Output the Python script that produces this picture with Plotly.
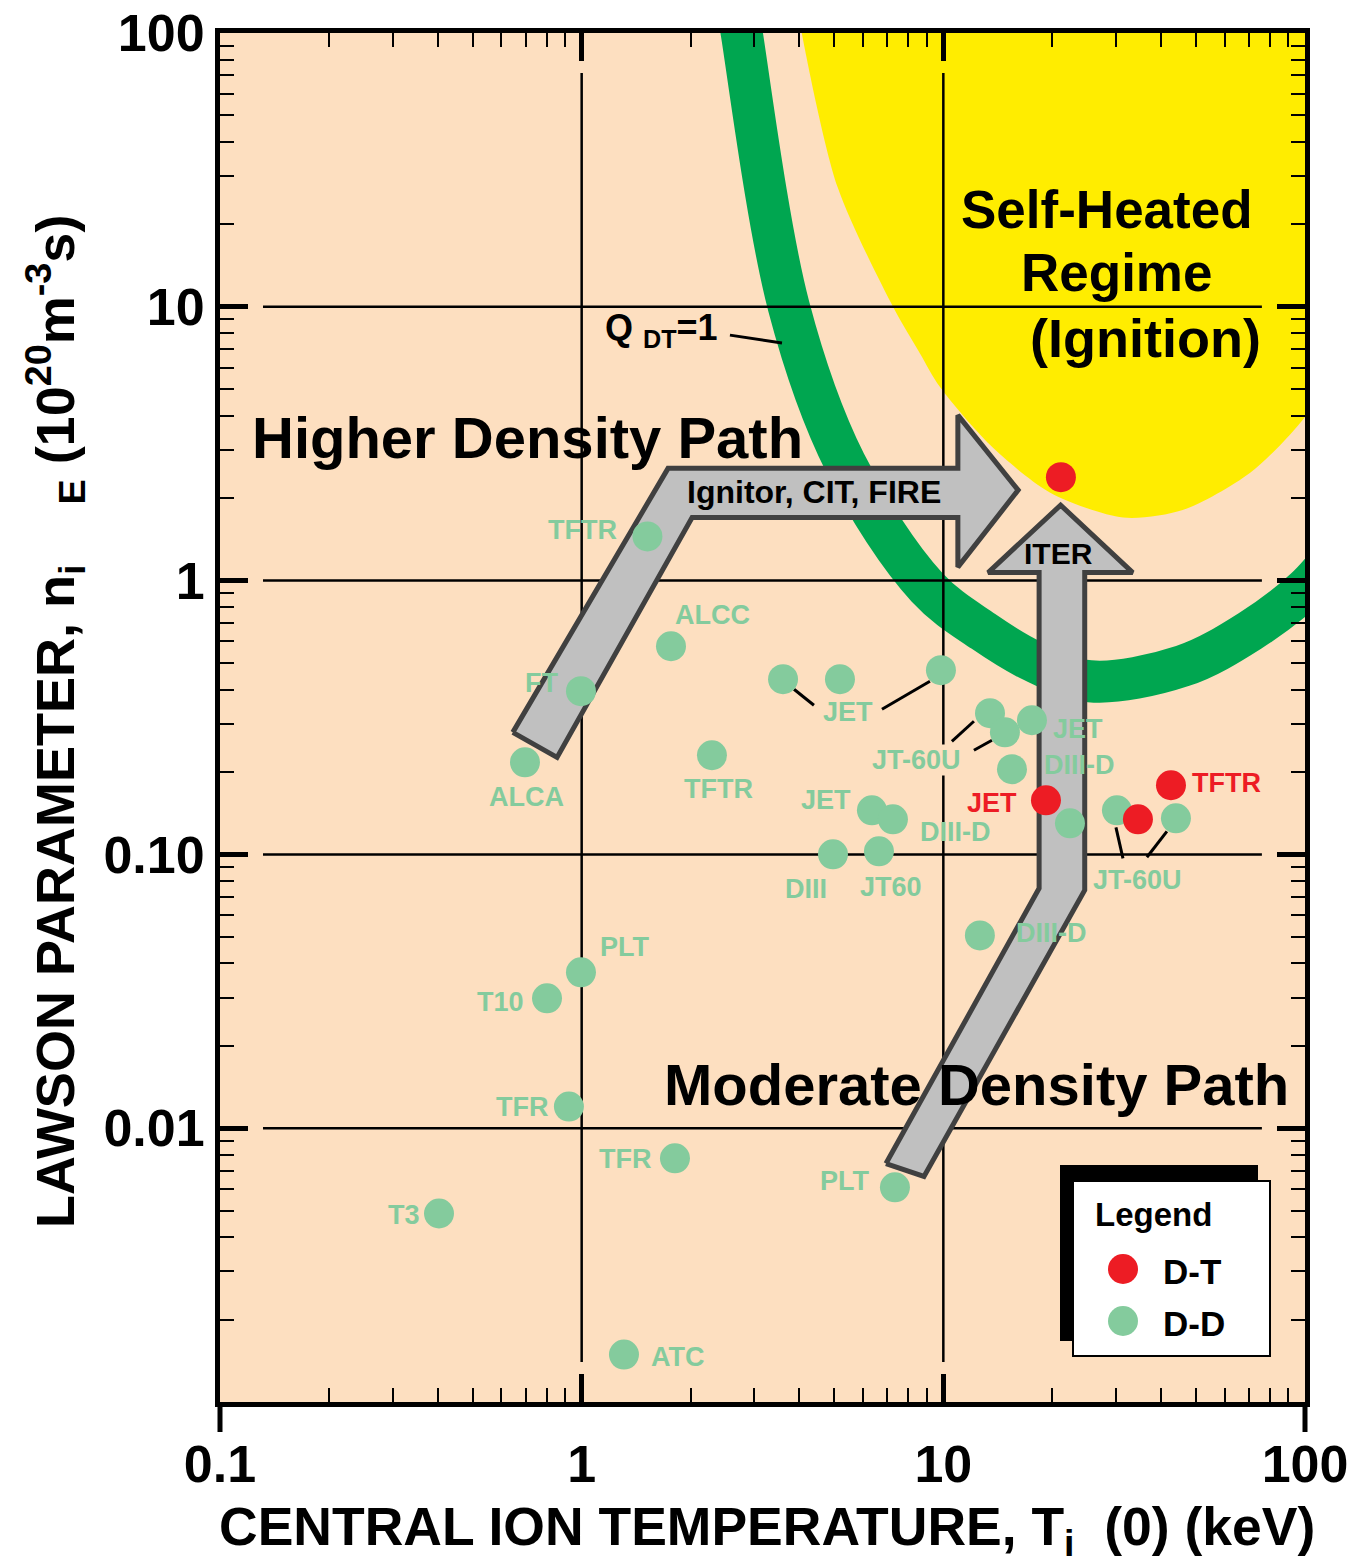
import numpy as np
import plotly.graph_objects as go

FONT = "Liberation Sans, Arial, Helvetica, sans-serif"
PEACH = "#FDDFC0"
YELLOW = "#FFED00"
BAND = "#00A650"
DD_COLOR = "#84CB9D"
DT_COLOR = "#ED1C24"
ARROW_FILL = "#C0C0C0"
ARROW_EDGE = "#404040"

# Deuterium-deuterium results: central ion temperature (keV) and Lawson parameter (1e20 m^-3 s)
dd_T = [1.52, 1.766, 0.9955, 0.697, 2.292, 3.604, 5.178, 9.849, 13.46, 14.80,
        17.58, 15.48, 6.347, 7.255, 4.953, 6.637, 22.39, 30.20, 43.97, 12.62,
        0.9955, 0.802, 0.922, 1.811, 7.348, 0.4032, 1.309]
dd_ntau = [1.45, 0.5758, 0.3944, 0.217, 0.2302, 0.4363, 0.4363, 0.4706, 0.3279, 0.2793,
           0.309, 0.2047, 0.1449, 0.1343, 0.1001, 0.1026, 0.1299, 0.1449, 0.1355, 0.0506,
           0.0371, 0.0298, 0.012, 0.00776, 0.00608, 0.00488, 0.00149]

# Deuterium-tritium results
dt_T = [21.14, 19.22, 34.52, 42.60]
dt_ntau = [2.386, 0.1576, 0.1343, 0.1789]

# Device labels (text, T, n tau)
dd_labels = ["TFTR", "ALCC", "FT", "ALCA", "TFTR", "JET", "JT-60U", "JET", "DIII-D",
             "JET", "DIII-D", "DIII", "JT60", "JT-60U", "DIII-D", "PLT", "T10", "TFR",
             "TFR", "PLT", "T3", "ATC"]
dd_label_T = [1.008, 2.307, 0.772, 0.702, 2.397, 5.449, 8.453, 23.56, 23.86,
              4.736, 10.83, 4.171, 7.164, 34.52, 19.96, 1.317, 0.598, 0.684,
              1.317, 5.346, 0.3227, 1.846]
dd_label_ntau = [1.528, 0.747, 0.4217, 0.1617, 0.1729, 0.3305, 0.2207, 0.2865, 0.2116,
                 0.1576, 0.1204, 0.0746, 0.0758, 0.0804, 0.0515, 0.0458, 0.0288, 0.01191,
                 0.00769, 0.00639, 0.0048, 0.001454]
# labels that sit on a grid line get a knock-out background
dd_label_knockout = ["JT-60U"]
dt_labels = ["JET", "TFTR"]
dt_label_T = [13.63, 60.83]
dt_label_ntau = [0.1537, 0.1819]

# Leader lines joining labels to points: (T0, n0, T1, n1)
leaders = [
    (2.57, 7.88, 3.58, 7.37),
    (3.864, 0.4011, 4.388, 0.3505),
    (6.766, 0.3389, 9.183, 0.4290),
    (10.56, 0.2589, 12.15, 0.3064),
    (12.15, 0.2401, 13.63, 0.2611),
    (31.38, 0.0967, 30.01, 0.1256),
    (36.55, 0.0976, 41.51, 0.1214),
]

# Self-heated (ignition) regime boundary
ign_T = [3.94, 4.06, 5.1, 7.26, 8.61, 9.79, 13.5, 19.7, 31.4, 45.9, 70.4, 100, 125, 125]
ign_ntau = [130, 100, 27.4, 10, 6.77, 5.09, 3.12, 2.10, 1.70, 1.81, 2.47, 3.96, 6.5, 130]

# Q_DT = 1 curve (centre of band)
q1_T = [2.69, 2.77, 3.74, 5.35, 9.01, 12.9, 17.7, 25.4, 45.9, 70.4, 100, 120]
q1_ntau = [130, 100, 10, 2.69, 0.946, 0.653, 0.508, 0.429, 0.488, 0.655, 0.93, 1.22]

# Higher density path arrow outline
hd_T = [0.645, 1.733, 10.97, 10.97, 16.1, 10.97, 10.97, 2.02, 0.855, 0.645]
hd_ntau = [0.279, 2.57, 2.57, 4.02, 2.14, 1.12, 1.70, 1.70, 0.226, 0.279]

# Moderate density path (ITER) arrow outline
md_T = [6.94, 18.4, 18.4, 13.3, 21.1, 33.4, 24.6, 24.6, 8.84, 6.94]
md_ntau = [0.00743, 0.0752, 1.07, 1.07, 1.886, 1.07, 1.07, 0.0740, 0.00667, 0.00743]

# Decade grid
grid_n = [10, 1, 0.1, 0.01]
grid_T = [1, 10]
grid_T_span = [0.1315, 76.0]
grid_n_span = [0.0014, 71.4]

x_ticks = [0.1, 1, 10, 100]
x_ticktext = ["0.1", "1", "10", "100"]
y_ticks = [0.01, 0.1, 1, 10, 100]
y_ticktext = ["0.01", "0.10", "1", "10", "100"]
x_minor = [m * 10.0 ** k for k in range(-1, 2) for m in range(2, 10)]
y_minor = [m * 10.0 ** k for k in range(-3, 2) for m in range(2, 10)]

fig = go.Figure()

fig.add_trace(go.Scatter(x=ign_T, y=ign_ntau, mode="lines", fill="toself",
                         fillcolor=YELLOW, line=dict(color=YELLOW, width=0, shape="spline", smoothing=0.8),
                         hoverinfo="skip"))
fig.add_trace(go.Scatter(x=q1_T, y=q1_ntau, mode="lines",
                         line=dict(color=BAND, width=42, shape="spline", smoothing=1.0),
                         hoverinfo="skip"))

gx, gy = [], []
for n in grid_n:
    gx += [grid_T_span[0], grid_T_span[1], None]
    gy += [n, n, None]
for t in grid_T:
    gx += [t, t, None]
    gy += [grid_n_span[0], grid_n_span[1], None]
fig.add_trace(go.Scatter(x=gx, y=gy, mode="lines", line=dict(color="black", width=2.5),
                         hoverinfo="skip"))

for ax_T, ax_n in [(hd_T, hd_ntau), (md_T, md_ntau)]:
    fig.add_trace(go.Scatter(x=ax_T, y=ax_n, mode="lines", fill="toself", fillcolor=ARROW_FILL,
                             line=dict(color=ARROW_EDGE, width=5), hoverinfo="skip"))

lx, ly = [], []
for t0, n0, t1, n1 in leaders:
    lx += [t0, t1, None]
    ly += [n0, n1, None]
fig.add_trace(go.Scatter(x=lx, y=ly, mode="lines", line=dict(color="black", width=3),
                         hoverinfo="skip"))

fig.add_trace(go.Scatter(x=dd_T, y=dd_ntau, mode="markers", name="D-D",
                         marker=dict(size=30, color=DD_COLOR)))
fig.add_trace(go.Scatter(x=dt_T, y=dt_ntau, mode="markers", name="D-T",
                         marker=dict(size=30, color=DT_COLOR)))

ann = []


def txt(text, T, n, size, color="black", **kw):
    d = dict(x=np.log10(T), y=np.log10(n), xref="x", yref="y", text=text, showarrow=False,
             font=dict(family=FONT, size=size, color=color, weight="bold"),
             xanchor="center", yanchor="middle")
    d.update(kw)
    return d


knocked = False
for s, t, n in zip(dd_labels, dd_label_T, dd_label_ntau):
    if s in dd_label_knockout and not knocked:
        ann.append(txt(s, t, n, 27, DD_COLOR, bgcolor=PEACH, borderpad=0))
        knocked = True
    else:
        ann.append(txt(s, t, n, 27, DD_COLOR))
for s, t, n in zip(dt_labels, dt_label_T, dt_label_ntau):
    ann.append(txt(s, t, n, 27, DT_COLOR))

ann.append(txt("Higher Density Path", 0.7105, 3.341, 58))
ann.append(txt("Moderate Density Path", 12.38, 0.01445, 58))
ann.append(txt("Self-Heated", 28.34, 22.75, 53))
ann.append(txt("Regime", 30.2, 13.39, 53))
ann.append(txt("(Ignition)", 36.32, 7.686, 54))
ann.append(txt("Q <sub>DT</sub>=1", 1.667, 8.222, 36))
ann.append(txt("Ignitor, CIT, FIRE", 4.388, 2.104, 32))
ann.append(txt("ITER", 20.87, 1.259, 30))

# Axis titles
ann.append(dict(x=0.504, y=-0.0935, xref="paper", yref="paper", showarrow=False,
                text="CENTRAL ION TEMPERATURE, T<sub>i</sub>\u00a0 (0) (keV)",
                font=dict(family=FONT, size=53.5, color="black", weight="bold"),
                xanchor="center", yanchor="middle"))
ann.append(dict(x=-0.152, y=0.4967, xref="paper", yref="paper", showarrow=False, textangle=-90,
                text="LAWSON PARAMETER, n<sub>i</sub>\u00a0\u00a0\u00a0\u00a0<sub>E</sub> (10<sup>20</sup>m<sup>-3</sup>s)",
                font=dict(family=FONT, size=54, color="black", weight="bold"),
                xanchor="center", yanchor="middle"))

# Legend box
PW, PH = 1085.0, 1369.0


def px2paper(px, py):
    return (px - 220) / PW, (1402 - py) / PH


shapes = []
x0, y1 = px2paper(1060, 1165)
x1, y0 = px2paper(1258, 1341)
shapes.append(dict(type="rect", xref="paper", yref="paper", x0=x0, x1=x1, y0=y0, y1=y1,
                   fillcolor="black", line=dict(width=0), layer="above"))
x0, y1 = px2paper(1073, 1181)
x1, y0 = px2paper(1270, 1356)
shapes.append(dict(type="rect", xref="paper", yref="paper", x0=x0, x1=x1, y0=y0, y1=y1,
                   fillcolor="white", line=dict(color="black", width=2), layer="above"))
for col, name, py in [(DT_COLOR, "D-T", 1269), (DD_COLOR, "D-D", 1321)]:
    cx, cy = px2paper(1123, py)
    shapes.append(dict(type="circle", xref="paper", yref="paper",
                       x0=cx - 15 / PW, x1=cx + 15 / PW, y0=cy - 15 / PH, y1=cy + 15 / PH,
                       fillcolor=col, line=dict(width=0), layer="above"))
    tx, ty = px2paper(1161, py + 2)
    ann.append(dict(x=tx, y=ty, xref="paper", yref="paper", text=name, showarrow=False,
                    font=dict(family=FONT, size=35, color="black", weight="bold"),
                    xanchor="left", yanchor="middle"))
tx, ty = px2paper(1153, 1214)
ann.append(dict(x=tx, y=ty, xref="paper", yref="paper", text="Legend", showarrow=False,
                font=dict(family=FONT, size=33, color="black", weight="bold"),
                xanchor="center", yanchor="middle"))

# Outward ticks at the two ends of the temperature axis
for xp in (0, 1):
    shapes.append(dict(type="line", xref="paper", yref="paper", x0=xp, x1=xp, y0=0, y1=-30 / PH,
                       line=dict(color="black", width=5)))

axis_common = dict(type="log", showgrid=False, zeroline=False, showline=True, linecolor="black",
                   linewidth=5, mirror="ticks", ticks="inside", ticklen=28, tickwidth=5,
                   tickcolor="black", tickmode="array", automargin=False,
                   tickfont=dict(family=FONT, size=52, color="black", weight="bold"))

fig.update_layout(
    width=1359, height=1564,
    margin=dict(l=220, r=54, t=33, b=162),
    paper_bgcolor="white", plot_bgcolor=PEACH,
    showlegend=False,
    xaxis=dict(range=[-1, 2], tickvals=x_ticks, ticktext=x_ticktext, ticklabelstandoff=13,
               minor=dict(tickmode="array", tickvals=x_minor, ticks="inside", ticklen=14,
                          tickwidth=2, tickcolor="black", showgrid=False),
               **axis_common),
    yaxis=dict(range=[-3, 2], tickvals=y_ticks, ticktext=y_ticktext, ticklabelstandoff=0,
               minor=dict(tickmode="array", tickvals=y_minor, ticks="inside", ticklen=14,
                          tickwidth=2, tickcolor="black", showgrid=False),
               **axis_common),
    annotations=ann,
    shapes=shapes,
)

fig.write_html("out.html")
